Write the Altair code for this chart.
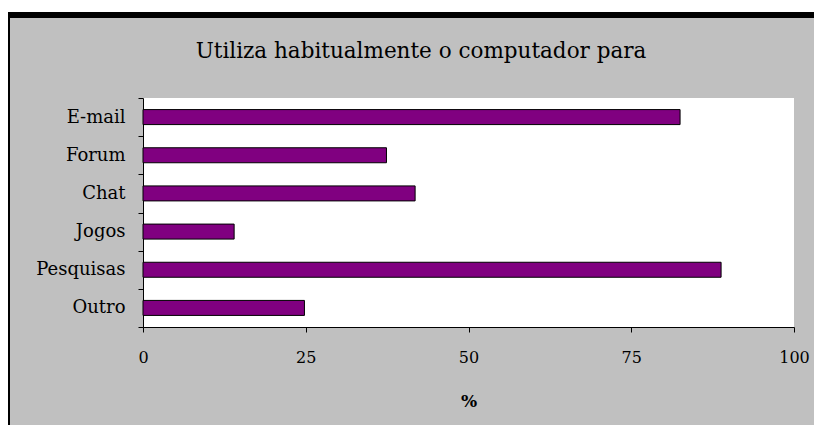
import altair as alt
import pandas as pd

categories = ["E-mail", "Forum", "Chat", "Jogos", "Pesquisas", "Outro"]
values = [82.5, 37.4, 41.8, 14.0, 88.8, 24.8]
x_ticks = [0, 25, 50, 75, 100]
title_text = "Utiliza habitualmente o computador para"
x_title = "%"

df = pd.DataFrame({"cat": categories, "val": values})

W, H = 651, 229
PAD_L, PAD_T = 135, 90
PAD_R = 806 - PAD_L - W
PAD_B = 417 - PAD_T - H

FONT = "DejaVu Serif"

bars = alt.Chart(df).mark_bar(
    color="#800080", stroke="#000000", strokeWidth=1, size=15
).encode(
    x=alt.X("val:Q",
            scale=alt.Scale(domain=[0, 100], nice=False),
            axis=alt.Axis(values=x_ticks, title=x_title, grid=False,
                          domainColor="#000", tickColor="#000",
                          tickSize=5, labelPadding=17, labelFlush=False,
                          labelFont=FONT, labelFontSize=16, labelColor="#000",
                          titleFont=FONT, titleFontSize=17, titleFontWeight="bold",
                          titleColor="#000", titlePadding=28)),
    y=alt.Y("cat:N", sort=categories,
            scale=alt.Scale(paddingInner=0, paddingOuter=0),
            axis=alt.Axis(title=None, tickBand="extent", domainColor="#000",
                          tickColor="#000", tickSize=5, labelPadding=13,
                          labelFont=FONT, labelFontSize=18, labelColor="#000")),
)

frame_df = pd.DataFrame({"k": [0]})
white_strip = alt.Chart(frame_df).mark_rect(color="white").encode(
    x=alt.value(-PAD_L), x2=alt.value(W + PAD_R),
    y=alt.value(-PAD_T), y2=alt.value(-PAD_T + 4))
black_top = alt.Chart(frame_df).mark_rect(color="black").encode(
    x=alt.value(-PAD_L), x2=alt.value(W + PAD_R),
    y=alt.value(-PAD_T + 4), y2=alt.value(-PAD_T + 10))
black_left = alt.Chart(frame_df).mark_rect(color="black").encode(
    x=alt.value(-PAD_L), x2=alt.value(-PAD_L + 2),
    y=alt.value(-PAD_T + 4), y2=alt.value(H + PAD_B))

chart = alt.layer(white_strip, black_top, black_left, bars).properties(
    width=W, height=H,
    padding={"left": PAD_L, "top": PAD_T, "right": PAD_R, "bottom": PAD_B},
    autosize=alt.AutoSizeParams(type="none"),
    title=alt.TitleParams(title_text, font=FONT, fontSize=21.5, fontWeight="normal",
                          color="#000", anchor="middle", frame="bounds",
                          offset=-54, dx=10),
    background="#c0c0c0",
).configure_view(fill="white", stroke=None)

chart.save("out.html", embed_options={"renderer": "svg", "actions": False})
